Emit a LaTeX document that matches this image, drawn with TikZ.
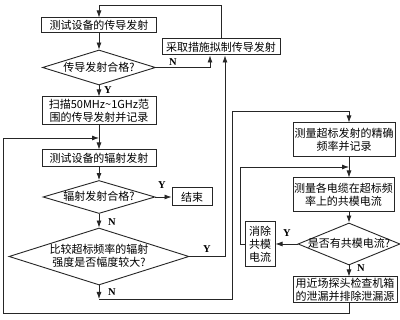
\documentclass[tikz,border=0pt]{standalone}
\usepackage{fontspec}
\setmainfont{Liberation Serif}
\newfontfamily\cjk{Noto Sans CJK SC}
\usetikzlibrary{shapes.geometric,arrows.meta}
\newcommand\dtext[1]{\raisebox{-0.36em}[0pt][0pt]{\makebox[0pt]{#1}}}
\newcommand\dtwo[2]{\raisebox{-0.3em}[0pt][0pt]{\makebox[0pt]{\begin{tabular}{@{}c@{}}#1\\#2\end{tabular}}}}
\tikzset{
  ln/.style={draw=black!85, line width=0.8pt},
  arr/.style={ln, -{Latex[length=7pt,width=5pt]}},
  box/.style={draw=black!85, line width=1pt, rectangle, inner sep=0pt, align=center,
    font=\cjk\fontsize{11}{13}\selectfont},
  diam/.style={draw=black!85, line width=0.9pt, diamond, inner sep=0pt,
    font=\cjk\fontsize{11}{13}\selectfont},
  yn/.style={font=\bfseries\fontsize{10.5}{12}\selectfont, inner sep=0pt}
}
\begin{document}
\begin{tikzpicture}[x=1pt,y=-1pt]
\useasboundingbox[fill=white] (0,0) rectangle (400,320);
% left column
\node[box, minimum width=115pt, minimum height=15pt] (A) at (99,25.5) {测试设备的传导发射};
\node[diam, minimum width=113pt, minimum height=35pt] (D1) at (99,67.5) {\dtext{传导发射合格?}};
\node[box, minimum width=114pt, minimum height=28pt] (B) at (99,111) {扫描50MHz\textasciitilde1GHz范\\围的传导发射并记录};
\node[box, minimum width=118pt, minimum height=16pt] (C) at (221,47) {采取措施拟制传导发射};
\node[box, minimum width=114pt, minimum height=17pt] (E) at (99,158.5) {测试设备的辐射发射};
\node[diam, minimum width=112pt, minimum height=33pt] (D2) at (99,197) {\dtext{辐射发射合格?}};
\node[box, minimum width=40pt, minimum height=18pt] (END) at (192,197) {结束};
\node[diam, minimum width=180pt, minimum height=57pt] (D3) at (99,256.5) {\dtwo{比较超标频率的辐射}{强度是否幅度较大?}};
% right column
\node[box, minimum width=102pt, minimum height=34pt] (F) at (344,140) {测量超标发射的精确\\频率并记录};
\node[box, minimum width=101pt, minimum height=34pt] (G) at (343.5,195) {测量各电缆在超标频\\率上的共模电流};
\node[diam, minimum width=102pt, minimum height=42pt] (D4) at (349,244) {\dtext{是否有共模电流?}};
\node[box, minimum width=30pt, minimum height=45pt] (H) at (260,244) {消除\\共模\\电流};
\node[box, minimum width=104pt, minimum height=26pt] (I) at (345,290) {用近场探头检查机箱\\的泄漏并排除泄漏源};
% helper coordinates
\coordinate (xr) at (349,0);
\coordinate (t1) at (221,5);
\coordinate (n1) at (210,0);
\coordinate (y3) at (225,0);
\coordinate (b1) at (3,313);
\coordinate (j1) at (99,138);
\coordinate (b2) at (99,299);
\coordinate (v2) at (232,111);
\coordinate (h1) at (240,167);
% connectors
\draw[arr] (C.north) -- (C.north |- t1) -- (A.north |- t1) -- (A.north);
\draw[arr] (A.south) -- (D1.north);
\draw[arr] (D1.east) -- (D1.east -| n1) -- (C.south -| n1);
\draw[arr] (D1.south) -- (B.north);
\draw[arr] (B.south) -- (E.north);
\draw[arr] (I.south -| xr) -- (b1 -| xr) -- (b1) -- (b1 |- j1) -- (j1);
\draw[arr] (E.south) -- (D2.north);
\draw[arr] (D2.east) -- (END.west);
\draw[arr] (D2.south) -- (D3.north);
\draw[arr] (D3.east) -- (D3.east -| y3) -- (C.south -| y3);
\draw[arr] (D3.south) -- (b2);
\draw[ln] (b2) -- (b2 -| v2) -- (v2);
\draw[arr] (v2) -- (v2 -| xr) -- (F.north -| xr);
\draw[arr] (F.south -| xr) -- (G.north -| xr);
\draw[arr] (H.west) -- (H.west -| h1) -- (h1) -- (h1 -| xr);
\draw[arr] (G.south -| xr) -- (D4.north);
\draw[arr] (D4.west) -- (H.east);
\draw[arr] (D4.south) -- (D4.south |- I.north);
% labels
\node[yn] (lN1) at (173,62) {N};
\node[yn] (lY1) at (108,90) {Y};
\node[yn] (lY2) at (162,185) {Y};
\node[yn] (lN2) at (112,222) {N};
\node[yn] (lY3) at (207,249) {Y};
\node[yn] (lN3) at (112,292) {N};
\node[yn] (lY4) at (287,233) {Y};
\node[yn] (lN4) at (361,268) {N};
\end{tikzpicture}
\end{document}
